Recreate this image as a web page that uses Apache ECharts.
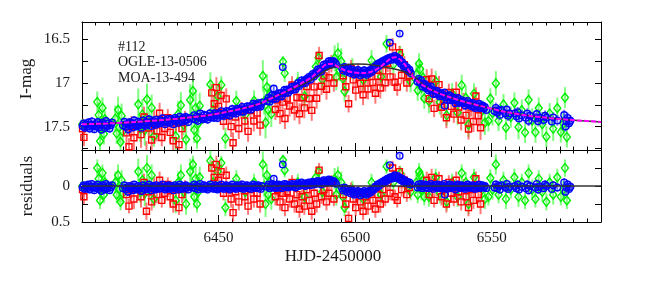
<!DOCTYPE html>
<html><head><meta charset="utf-8">
<script src="https://cdn.jsdelivr.net/npm/echarts@6/dist/echarts.min.js"></script>
<style>html,body{margin:0;padding:0;background:#fff}#c{width:664px;height:285px}</style>
</head><body><div id="c"></div>
<script>
// ---------- data ----------
const xMin = 6400, xMax = 6590;
const magTicks = [16.5, 16.75, 17, 17.25, 17.5, 17.75];
const magLabels = [16.5, 17, 17.5];
const resLabels = [0, 0.5];
const xLabels = [6450, 6500, 6550];
const annotation = ['#112', 'OGLE-13-0506', 'MOA-13-494'];

// best-fit model (magenta) : HJD-2450000, I-mag
const modelT   = [6400,6410,6420,6430,6440,6447,6453,6459,6465,6471,6477,6481,6484,6487,6489.5,6491.5,6493.5,6496,6499,6503,6506,6509,6511.5,6513.5,6515,6516.5,6518.5,6520.5,6522.5,6525,6530,6535,6540,6547,6555,6565,6578,6590];
const modelMag = [17.473,17.462,17.445,17.422,17.392,17.365,17.33,17.29,17.235,17.15,17.06,16.99,16.935,16.85,16.785,16.78,16.81,16.85,16.875,16.885,16.87,16.82,16.755,16.71,16.705,16.73,16.80,16.90,16.97,17.03,17.11,17.165,17.215,17.27,17.33,17.38,17.42,17.445];
// reference model (black) that the residuals are taken from
const refT   = [6400,6410,6420,6430,6440,6447,6453,6459,6465,6471,6477,6481,6484,6487,6489.5,6492,6495,6498,6501,6504,6507,6510,6513,6516,6519,6522,6525,6530,6535,6540,6547,6555,6565,6578,6590];
const refMag = [17.473,17.462,17.445,17.422,17.392,17.365,17.33,17.29,17.235,17.15,17.07,17.01,16.965,16.90,16.85,16.82,16.80,16.785,16.78,16.785,16.795,16.81,16.83,16.85,16.88,16.94,17.02,17.11,17.165,17.215,17.27,17.33,17.38,17.42,17.445];

// observations: [HJD-2450000, residual (mag), error (mag)]
const blueObs = [
[6400.2,.02,.05],[6400.6,-.01,.05],[6401.0,.04,.05],[6401.5,.00,.05],[6401.9,.03,.05],[6402.3,-.02,.05],[6402.8,.05,.05],[6403.2,.01,.05],[6403.6,-.03,.05],[6404.1,.02,.05],[6404.5,.06,.05],[6404.9,.00,.05],[6405.4,.03,.05],[6405.8,-.02,.05],[6406.2,.04,.05],[6406.7,.01,.05],[6407.1,.07,.05],[6407.5,-.01,.05],[6408.0,.02,.05],[6408.4,.05,.05],[6408.8,-.03,.05],[6409.3,.03,.05],[6409.7,.00,.05],[6410.1,.06,.05],[6410.6,.02,.05],[6411.0,-.01,.05],
[6415.0,.03,.05],[6415.5,-.01,.05],[6416.0,.05,.05],[6416.4,.02,.05],[6416.9,.08,.06],[6417.3,.00,.05],[6417.8,.04,.05],[6418.2,.01,.05],[6418.7,.06,.05],[6419.1,-.02,.05],[6419.6,.03,.05],[6420.0,.05,.05],[6420.5,.00,.05],[6420.9,.04,.05],[6421.4,.02,.05],[6421.8,.07,.06],[6422.3,-.01,.05],[6422.7,.03,.05],[6423.2,.05,.05],[6423.6,.01,.05],[6424.1,.04,.05],[6424.5,-.02,.05],[6425.0,.02,.05],[6425.4,.06,.05],[6425.9,.00,.05],[6426.3,.03,.05],[6426.8,.05,.05],[6427.2,-.01,.05],[6427.7,.02,.05],[6428.1,.04,.05],[6428.6,.00,.05],[6429.0,.03,.05],[6429.5,-.02,.05],[6429.9,.02,.05],[6430.4,.05,.05],[6430.8,.01,.05],[6431.3,.03,.05],[6431.7,-.01,.05],[6432.2,.04,.05],[6432.6,.00,.05],[6433.1,.02,.05],[6433.5,.06,.05],[6434.0,-.01,.05],[6434.4,.03,.05],[6434.9,.01,.05],[6435.3,.05,.05],[6435.8,-.02,.05],[6436.2,.02,.05],[6436.7,.04,.05],[6437.1,.00,.05],[6437.6,.03,.05],[6438.0,-.01,.05],[6438.5,.02,.05],[6438.9,.05,.05],[6439.4,.01,.05],
[6440.6,.02,.05],[6441.1,-.02,.05],[6441.5,.03,.05],[6442.0,.00,.05],[6442.4,.05,.05],[6442.9,.01,.05],[6443.3,-.03,.05],[6443.8,.02,.05],[6444.2,.04,.05],[6444.7,-.01,.05],[6445.1,.03,.05],[6445.6,.00,.05],[6446.0,.05,.05],[6446.5,.02,.05],[6446.9,-.02,.05],[6447.4,.03,.05],[6447.8,.01,.05],[6448.3,.04,.05],[6448.7,-.01,.05],[6449.2,.02,.05],[6449.6,.05,.05],[6450.1,.00,.05],[6450.5,.03,.05],[6451.0,-.02,.05],[6451.4,.02,.05],[6451.9,.04,.05],[6452.3,.01,.05],[6452.8,-.01,.05],[6453.2,.03,.05],[6453.7,.00,.05],[6454.1,.05,.05],[6454.6,.02,.05],[6455.0,-.02,.05],[6455.5,.03,.05],[6455.9,.01,.05],[6456.4,.04,.05],[6456.8,-.01,.05],[6457.3,.02,.05],[6457.7,.00,.05],[6458.2,.03,.05],[6458.6,-.02,.05],[6459.1,.04,.05],[6459.5,.01,.05],[6460.0,.02,.05],[6460.4,-.01,.05],[6460.9,.03,.05],[6461.3,.00,.05],[6461.8,.04,.05],[6462.2,.01,.05],[6462.7,-.02,.05],[6463.1,.02,.05],[6463.6,.00,.05],[6464.0,.03,.05],[6464.5,-.01,.05],[6464.9,.02,.05],[6465.4,.04,.05],[6465.8,.00,.05],
[6467.8,.01,.05],[6468.3,-.02,.05],[6468.7,.03,.05],[6469.2,.00,.05],[6469.6,-.03,.05],[6470.1,.02,.05],[6470.2,-.10,.03],[6470.5,-.01,.05],[6471.0,.03,.05],[6471.4,.00,.05],[6471.9,-.02,.05],[6472.3,.02,.05],[6472.8,-.01,.05],[6473.2,.03,.05],[6473.5,-.30,.03],[6473.7,.00,.05],[6474.1,-.03,.05],[6474.6,.01,.05],[6475.0,-.02,.05],[6475.5,.02,.05],[6475.9,-.01,.05],[6476.4,.00,.05],[6476.8,-.03,.05],[6477.3,.01,.05],[6477.7,-.02,.05],[6478.2,.02,.05],[6478.6,-.01,.05],[6479.1,-.04,.05],[6479.5,.00,.05],[6480.0,-.02,.05],[6480.4,-.05,.05],[6480.9,-.01,.05],[6481.3,-.03,.05],[6481.8,.00,.05],[6482.2,-.04,.05],[6482.7,-.02,.05],[6483.1,-.05,.05],[6483.6,-.01,.05],[6484.0,-.04,.05],[6484.5,-.06,.05],[6484.9,-.02,.05],[6485.4,-.05,.05],[6485.8,-.03,.05],[6486.3,-.07,.05],[6486.7,-.04,.05],[6487.2,-.06,.05],[6487.6,-.02,.05],[6488.1,-.05,.05],[6488.5,-.08,.05],[6489.0,-.04,.05],[6489.4,-.07,.05],[6489.9,-.05,.05],[6490.3,-.09,.05],[6490.8,-.06,.05],[6491.2,-.08,.05],[6491.7,-.04,.05],[6492.1,-.07,.05],[6492.6,-.05,.05],[6493.0,-.03,.05],
[6495.2,.03,.05],[6495.6,.06,.05],[6496.1,.02,.05],[6496.5,.05,.05],[6497.0,.08,.05],[6497.4,.04,.05],[6497.9,.07,.05],[6498.3,.10,.05],[6498.8,.06,.05],[6499.2,.09,.05],[6499.7,.12,.05],[6500.1,.08,.05],[6500.6,.11,.05],[6501.0,.07,.05],[6501.5,.10,.05],[6501.9,.13,.05],[6502.4,.09,.05],[6502.8,.11,.05],[6503.3,.07,.05],[6503.7,.10,.05],[6504.2,.12,.05],[6504.6,.08,.05],[6505.1,.10,.05],[6505.5,.06,.05],[6506.0,.08,.05],[6506.4,.04,.05],[6506.9,.05,.05],[6507.3,.01,.05],[6507.8,.02,.05],[6508.2,-.02,.05],[6508.7,.00,.05],[6509.1,-.04,.05],[6509.6,-.03,.05],[6510.0,-.06,.05],[6510.5,-.05,.05],[6510.9,-.08,.05],[6511.4,-.07,.05],[6511.8,-.10,.05],[6512.3,-.09,.05],[6512.7,-.12,.05],[6512.7,-.29,.03],[6513.2,-.10,.05],[6513.6,-.13,.05],[6514.1,-.11,.05],[6514.5,-.15,.05],[6515.0,-.12,.05],[6515.4,-.14,.05],[6515.9,-.10,.05],[6516.3,-.12,.05],[6516.3,-.42,.03],[6516.8,-.08,.05],[6517.2,-.10,.05],[6517.7,-.06,.05],[6518.1,-.08,.05],[6518.6,-.04,.05],[6519.0,-.06,.05],[6519.5,-.03,.05],[6519.9,-.05,.05],[6520.4,-.02,.05],
[6522.8,.02,.05],[6523.2,-.02,.05],[6523.7,.01,.05],[6524.1,-.03,.05],[6524.6,.03,.05],[6525.0,.00,.05],[6525.5,-.02,.05],[6525.9,.02,.05],[6526.4,-.01,.05],[6526.8,.03,.05],[6527.3,.00,.05],[6527.7,-.03,.05],[6528.2,.01,.05],[6528.6,.04,.05],[6529.1,-.01,.05],[6529.5,.02,.05],[6530.0,-.02,.05],[6530.4,.01,.05],[6530.9,.03,.05],[6531.3,-.01,.05],[6531.8,.02,.05],[6532.2,.00,.05],[6532.7,-.03,.05],[6532.8,.12,.04],[6533.1,.02,.05],[6533.6,.04,.05],[6534.0,.00,.05],[6534.5,-.02,.05],[6534.9,.03,.05],[6535.4,.01,.05],[6535.8,-.01,.05],[6536.3,.02,.05],[6536.7,.05,.05],[6537.2,.00,.05],[6537.6,-.02,.05],[6538.1,.03,.05],[6538.5,.01,.05],[6539.0,-.01,.05],[6539.4,.02,.05],[6539.9,.00,.05],[6540.3,.04,.05],[6540.8,.01,.05],[6541.2,-.02,.05],[6541.7,.02,.05],[6542.1,.00,.05],[6542.6,.03,.05],[6543.0,-.01,.05],[6543.5,.02,.05],[6543.9,.04,.05],[6544.4,.00,.05],[6544.8,.02,.05],[6545.3,-.02,.05],[6545.7,.03,.05],[6546.2,.01,.05],[6546.6,-.01,.05],[6547.1,.02,.05],[6547.5,.00,.05],[6548.0,.03,.05],
[6551.0,.02,.06],[6551.5,-.02,.06],[6552.0,.03,.06],[6552.5,.00,.06],[6553.0,.05,.06],[6553.5,-.01,.06],[6555.0,.02,.06],[6555.5,-.03,.06],[6556.0,.04,.06],[6556.5,.01,.06],[6558.5,.00,.06],[6559.0,.03,.06],[6559.5,-.02,.06],[6560.0,.05,.06],[6561.0,.01,.06],[6562.5,.03,.06],[6563.0,-.02,.06],[6563.5,.06,.06],[6564.0,.00,.06],[6566.0,.02,.06],[6566.5,-.03,.06],[6567.0,.05,.06],[6567.5,.01,.06],[6569.0,.03,.06],[6569.5,-.02,.06],[6570.0,.00,.06],[6572.0,.04,.06],[6572.5,-.01,.06],[6574.0,.02,.06],[6576.5,-.05,.06],[6577.0,.08,.06],[6577.3,.02,.06],[6577.8,-.02,.06],[6578.3,.04,.06],[6578.8,.01,.06]
];

const redObs = [
[6400.2,.05,.12],[6400.7,.15,.10],
[6416.3,.12,.12],[6417.2,.28,.10],[6418.1,.05,.12],[6419.0,.18,.14],[6421.6,.15,.15],[6422.7,-.05,.12],[6423.6,.35,.12],[6424.4,.08,.10],[6425.5,.22,.12],[6426.4,.02,.14],[6427.4,.12,.12],[6428.4,-.08,.12],[6429.2,.20,.10],[6430.3,.10,.12],[6431.4,-.02,.10],[6432.3,.15,.12],[6433.4,.25,.12],[6434.4,.05,.10],[6435.5,.30,.10],[6436.6,.12,.12],[6437.7,.02,.10],
[6447.5,-.25,.10],[6448.4,-.12,.10],[6449.2,-.30,.12],[6450.0,-.08,.10],[6450.9,-.20,.10],[6451.8,.10,.10],[6452.8,-.15,.12],[6453.7,.05,.10],[6454.6,.18,.12],[6455.3,.37,.12],[6456.2,.08,.10],[6457.4,.22,.12],[6458.3,.02,.10],[6459.6,.15,.12],[6460.8,.28,.12],[6461.7,.05,.10],[6462.9,.18,.12],[6464.1,.10,.10],[6465.2,.25,.12],
[6470.8,.15,.12],[6471.6,.05,.10],[6472.5,.22,.12],[6473.4,.10,.10],[6474.3,.30,.12],[6475.1,.08,.10],[6476.0,.18,.12],[6476.9,-.05,.10],[6477.8,.25,.12],[6478.7,.12,.10],[6479.6,.32,.12],[6480.5,.15,.10],[6481.4,.28,.12],[6482.3,.05,.10],[6483.2,.20,.12],[6484.1,.35,.12],[6485.0,.10,.10],[6485.9,.25,.12],[6486.8,-.22,.10],[6487.7,.15,.10],[6488.6,.05,.10],[6489.5,.22,.12],[6490.4,.10,.10],[6491.3,-.05,.10],[6492.2,.18,.10],
[6495.7,.12,.10],[6496.6,.25,.12],[6497.6,.45,.10],[6498.5,.05,.10],[6499.3,.18,.12],[6500.2,.30,.12],[6501.1,.10,.10],[6502.0,.22,.12],[6502.9,.35,.12],[6503.8,.15,.10],[6504.7,.28,.12],[6505.6,.08,.10],[6506.5,.20,.12],[6507.4,.32,.12],[6508.3,.12,.10],[6509.2,.25,.12],[6510.1,.05,.10],[6511.0,.18,.10],[6511.9,-.05,.10],[6512.8,.10,.10],[6513.7,-.25,.10],[6514.6,.15,.10],[6515.4,.20,.10],[6516.2,-.20,.08],[6517.0,.05,.10],[6518.0,-.08,.10],[6518.9,.12,.10],[6519.8,.02,.10],
[6526.2,-.08,.12],[6527.1,.12,.10],[6528.0,-.12,.12],[6528.9,.20,.10],[6529.8,.02,.12],[6530.7,-.10,.10],[6531.6,.15,.12],[6532.5,.05,.10],[6533.4,.25,.12],[6534.3,-.05,.10],[6535.2,.10,.12],[6536.1,.18,.10],[6537.0,-.08,.12],[6537.9,.08,.10],[6538.8,.22,.12],[6539.7,.00,.10],[6540.6,.15,.12],[6541.5,.30,.12],[6542.4,.05,.10],[6543.3,.20,.12],[6544.2,-.10,.10],[6545.1,.12,.12],[6545.9,.25,.14]
];

const greenObs = [
[6400.1,.00,.04],
[6405.6,-.25,.12],[6406.1,-.10,.15],[6406.6,.20,.12],[6407.0,.05,.14],[6407.5,-.18,.12],[6408.0,.12,.12],[6408.4,-.05,.10],
[6412.2,-.05,.15],[6412.7,.12,.12],[6413.2,-.15,.15],[6413.6,.05,.18],[6414.1,.22,.12],[6414.5,-.08,.14],[6414.9,.10,.15],
[6420.6,-.20,.18],[6421.3,.08,.15],[6422.1,-.08,.18],[6423.0,.10,.18],[6423.8,-.25,.18],[6424.6,.02,.15],[6425.5,-.15,.15],[6426.3,.18,.12],
[6434.3,.20,.18],[6435.2,-.05,.15],[6436.2,-.15,.15],[6437.2,.08,.12],[6438.1,.25,.15],
[6439.6,-.20,.18],[6440.1,.00,.15],[6440.6,-.30,.12],[6441.1,.15,.15],[6441.6,-.10,.18],[6442.1,.25,.12],[6442.6,.08,.12],[6443.1,-.12,.15],
[6447.0,-.35,.14],[6448.0,-.05,.12],[6449.6,-.20,.14],[6451.0,-.32,.10],[6452.5,.30,.12],
[6456.5,-.10,.12],[6459.8,.08,.12],[6463.0,-.05,.12],
[6466.2,-.30,.18],[6466.7,.00,.15],[6467.2,.25,.18],[6467.7,-.15,.15],[6468.2,.12,.12],[6468.7,-.05,.12],[6469.3,.18,.15],
[6473.6,-.36,.06],[6474.2,-.22,.10],
[6479.0,-.05,.12],[6481.5,.15,.12],[6485.6,-.12,.10],[6486.6,-.20,.08],[6488.0,.08,.12],
[6492.5,-.10,.15],[6493.1,.12,.15],[6493.7,-.15,.12],[6494.3,.05,.12],[6494.9,-.05,.15],[6495.5,.15,.12],[6496.1,.30,.12],
[6499.0,.05,.12],[6503.0,.18,.12],[6506.0,-.05,.12],[6509.5,.12,.12],[6511.5,-.27,.10],[6514.0,-.05,.12],[6516.5,-.18,.10],[6518.7,-.02,.10],[6520.3,.08,.12],
[6522.4,-.05,.15],[6522.9,.12,.12],[6523.4,-.20,.12],[6523.8,-.15,.10],[6524.3,.05,.15],[6524.8,-.08,.12],[6525.3,.15,.12],
[6527.0,.15,.14],[6529.5,-.12,.12],[6531.0,.10,.14],[6533.5,.22,.12],[6535.5,-.05,.12],[6537.5,.15,.14],[6539.0,-.18,.12],[6540.5,-.05,.14],[6541.5,.25,.14],[6543.5,-.12,.12],[6546.5,.05,.12],[6547.5,.18,.14],
[6548.8,.15,.12],[6549.5,-.11,.12],[6550.3,.05,.14],[6551.5,-.30,.14],[6552.5,.12,.12],[6554.3,-.08,.12],[6555.2,.18,.14],[6557.0,.05,.12],[6558.3,-.12,.12],[6559.8,.15,.14],[6561.0,-.05,.12],[6562.2,.20,.12],[6563.5,-.18,.12],[6564.8,.05,.14],[6566.0,.18,.12],[6567.2,-.10,.12],[6568.5,.08,.14],[6570.0,.22,.12],[6571.2,-.05,.12],[6572.5,.12,.14],[6574.0,-.12,.12],[6575.3,.15,.12],[6576.2,.05,.12],[6576.8,-.25,.12],[6577.5,.20,.12]
];

// ---------- derived ----------
function curveAt(T, M, t) {
  if (t <= T[0]) return M[0];
  for (let i = 1; i < T.length; i++) {
    if (t <= T[i]) {
      const f = (t - T[i-1]) / (T[i] - T[i-1]);
      return M[i-1] + f * (M[i] - M[i-1]);
    }
  }
  return M[M.length - 1];
}
// magnitude = reference model + residual
const toMag = obs => obs.map(d => [d[0], curveAt(refT, refMag, d[0]) + d[1], d[2]]);
const modelLine = modelT.map((t, i) => [t, modelMag[i]]);
const refLine = refT.map((t, i) => [t, refMag[i]]);

const FONT = '"Liberation Serif","Times New Roman",serif';
const TXT = '#1a1a1a';

function errSeries(data, color, xi, yi) {
  return {
    type: 'custom', xAxisIndex: xi, yAxisIndex: yi, clip: true, silent: true,
    encode: { x: 0, y: 1 }, data: data,
    renderItem: function (params, api) {
      const t = api.value(0), y = api.value(1), e = api.value(2);
      const a = api.coord([t, y - e]), b = api.coord([t, y + e]);
      return { type: 'line', shape: { x1: a[0], y1: a[1], x2: b[0], y2: b[1] },
               style: { stroke: color, lineWidth: 2 } };
    }
  };
}
function ptSeries(data, symbol, size, color, xi, yi) {
  return {
    type: 'scatter', xAxisIndex: xi, yAxisIndex: yi, data: data, symbol: symbol, symbolSize: size,
    silent: true, clip: true,
    itemStyle: { color: 'rgba(0,0,0,0)', borderColor: color, borderWidth: 1.4, opacity: 1 }
  };
}

function xAx(grid, pos, labels) {
  return {
    type: 'value', gridIndex: grid, position: pos, min: xMin, max: xMax, interval: 50,
    axisLine: { show: true, onZero: false, lineStyle: { color: '#000', width: 1 } },
    axisTick: { show: true, inside: true, length: 7, lineStyle: { color: '#000' } },
    minorTick: { show: true, splitNumber: 10, length: 3.5, lineStyle: { color: '#000' } },
    splitLine: { show: false }, minorSplitLine: { show: false },
    axisLabel: labels ? { show: true, customValues: xLabels, formatter: v => String(v), margin: 9, fontFamily: FONT, fontSize: 15, color: TXT } : { show: false }
  };
}
function yMag(pos, labels) {
  return {
    type: 'value', gridIndex: 0, position: pos, min: 16.3, max: 17.767, inverse: true,
    axisLine: { show: true, onZero: false, lineStyle: { color: '#000', width: 1 } },
    axisTick: { show: true, inside: true, length: 6, customValues: magTicks, lineStyle: { color: '#000' } },
    splitLine: { show: false },
    axisLabel: labels ? { show: true, customValues: magLabels, formatter: v => String(v), margin: 12, fontFamily: FONT, fontSize: 15, color: TXT } : { show: false }
  };
}
function yRes(pos, labels) {
  return {
    type: 'value', gridIndex: 1, position: pos, min: -0.5, max: 0.5, inverse: true, interval: 0.25,
    axisLine: { show: true, onZero: false, lineStyle: { color: '#000', width: 1 } },
    axisTick: { show: true, inside: true, length: 6, lineStyle: { color: '#000' } },
    splitLine: { show: false },
    axisLabel: labels ? { show: true, customValues: resLabels, formatter: v => String(v), margin: 12, fontFamily: FONT, fontSize: 15, color: TXT } : { show: false }
  };
}

const gTop = toMag(greenObs), rTop = toMag(redObs), bTop = toMag(blueObs);
const GREEN_E = 'rgba(40,255,40,0.6)', RED_E = 'rgba(255,30,30,0.6)', BLUE_E = 'rgba(0,0,255,0.55)';
const GREEN = '#00ee00', RED = '#ff0000', BLUE = '#0000ff';

const series = [
  // top panel
  { type: 'line', xAxisIndex: 0, yAxisIndex: 0, data: refLine, smooth: 0.3, symbol: 'none', silent: true,
    lineStyle: { color: '#333', width: 1.5 } },
  errSeries(gTop, GREEN_E, 0, 0), ptSeries(gTop, 'diamond', [7, 9], GREEN, 0, 0),
  errSeries(rTop, RED_E, 0, 0), ptSeries(rTop, 'rect', 6, RED, 0, 0),
  errSeries(bTop, BLUE_E, 0, 0), ptSeries(bTop, 'circle', 6.5, BLUE, 0, 0),
  { type: 'line', xAxisIndex: 0, yAxisIndex: 0, data: modelLine, smooth: 0.3, symbol: 'none', silent: true,
    lineStyle: { color: '#ff00ff', width: 2, type: [5, 2] } },
  // residual panel
  { type: 'line', xAxisIndex: 2, yAxisIndex: 2, data: [[xMin, 0], [xMax, 0]], symbol: 'none', silent: true,
    lineStyle: { color: '#333', width: 1.5 } },
  errSeries(greenObs, GREEN_E, 2, 2), ptSeries(greenObs, 'diamond', [7, 9], GREEN, 2, 2),
  errSeries(redObs, RED_E, 2, 2), ptSeries(redObs, 'rect', 6, RED, 2, 2),
  errSeries(blueObs, BLUE_E, 2, 2), ptSeries(blueObs, 'circle', 6.5, BLUE, 2, 2)
];

const chart = echarts.init(document.getElementById('c'), null, { renderer: 'canvas' });
chart.setOption({
  animation: false,
  backgroundColor: '#fff',
  grid: [
    { left: 82, top: 22, width: 519, height: 128 },
    { left: 82, top: 150, width: 519, height: 72 }
  ],
  xAxis: [xAx(0, 'bottom', false), xAx(0, 'top', false), xAx(1, 'bottom', true), xAx(1, 'top', false)],
  yAxis: [yMag('left', true), yMag('right', false), yRes('left', true), yRes('right', false)],
  series: series,
  graphic: [
    { type: 'text', left: 118, top: 40, style: { text: annotation[0], font: '14px ' + FONT, fill: TXT } },
    { type: 'text', left: 118, top: 55, style: { text: annotation[1], font: '14px ' + FONT, fill: TXT } },
    { type: 'text', left: 118, top: 71, style: { text: annotation[2], font: '14px ' + FONT, fill: TXT } },
    { type: 'text', x: 27, y: 79, rotation: Math.PI / 2,
      style: { text: 'I-mag', font: '17px ' + FONT, fill: TXT, align: 'center', verticalAlign: 'middle' } },
    { type: 'text', x: 28, y: 186, rotation: Math.PI / 2,
      style: { text: 'residuals', font: '17px ' + FONT, fill: TXT, align: 'center', verticalAlign: 'middle' } },
    { type: 'text', x: 333, y: 257,
      style: { text: 'HJD-2450000', font: '17px ' + FONT, fill: TXT, align: 'center', verticalAlign: 'middle' } }
  ]
});
</script>
</body></html>
